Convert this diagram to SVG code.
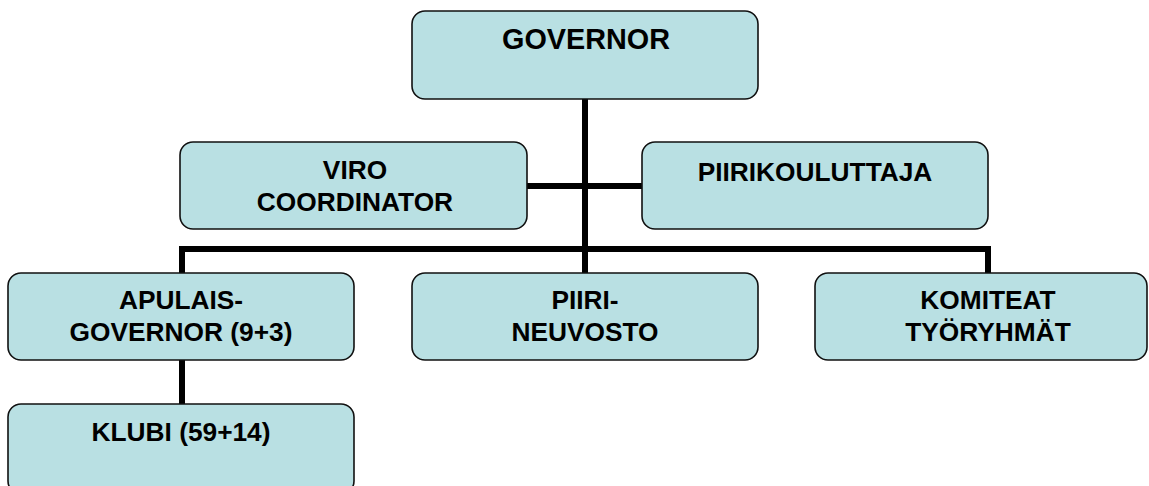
<svg xmlns="http://www.w3.org/2000/svg" width="1149" height="486" viewBox="0 0 1149 486">
<style>
.box{fill:#B9E0E3;stroke:#111;stroke-width:1.6}
.t{font-family:"Liberation Sans",Arial,sans-serif;font-weight:bold;font-size:26.3px;fill:#000;text-anchor:middle}
.big{font-size:28.8px}
.c{stroke:#000;stroke-width:6;fill:none}
</style>
<rect width="1149" height="486" fill="#fff"/>
<g id="connectors">
<line class="c" x1="585" y1="99" x2="585" y2="273"/>
<line class="c" x1="527" y1="186" x2="642" y2="186"/>
<polyline class="c" points="182,273 182,249 988,249 988,273"/>
<line class="c" x1="182" y1="360" x2="182" y2="404"/>
</g>
<g id="governor">
<rect class="box" x="412" y="11" width="346" height="88" rx="13"/>
<text class="t big" x="586" y="49">GOVERNOR</text>
</g>
<g id="viro">
<rect class="box" x="180" y="142" width="347" height="87" rx="13"/>
<text class="t" x="355" y="179">VIRO</text>
<text class="t" x="355" y="211">COORDINATOR</text>
</g>
<g id="piirikouluttaja">
<rect class="box" x="642" y="142" width="346" height="87" rx="13"/>
<text class="t" x="815" y="181">PIIRIKOULUTTAJA</text>
</g>
<g id="apulais">
<rect class="box" x="8" y="273" width="346" height="87" rx="13"/>
<text class="t" x="181" y="309">APULAIS-</text>
<text class="t" x="181" y="341">GOVERNOR (9+3)</text>
</g>
<g id="piiri">
<rect class="box" x="412" y="273" width="346" height="87" rx="13"/>
<text class="t" x="585" y="309">PIIRI-</text>
<text class="t" x="585" y="341">NEUVOSTO</text>
</g>
<g id="komiteat">
<rect class="box" x="815" y="273" width="332" height="87" rx="13"/>
<text class="t" x="988" y="309">KOMITEAT</text>
<text class="t" x="988" y="341">TYÖRYHMÄT</text>
</g>
<g id="klubi">
<rect class="box" x="8" y="404" width="346" height="90" rx="13"/>
<text class="t" x="181" y="441">KLUBI (59+14)</text>
</g>
</svg>
